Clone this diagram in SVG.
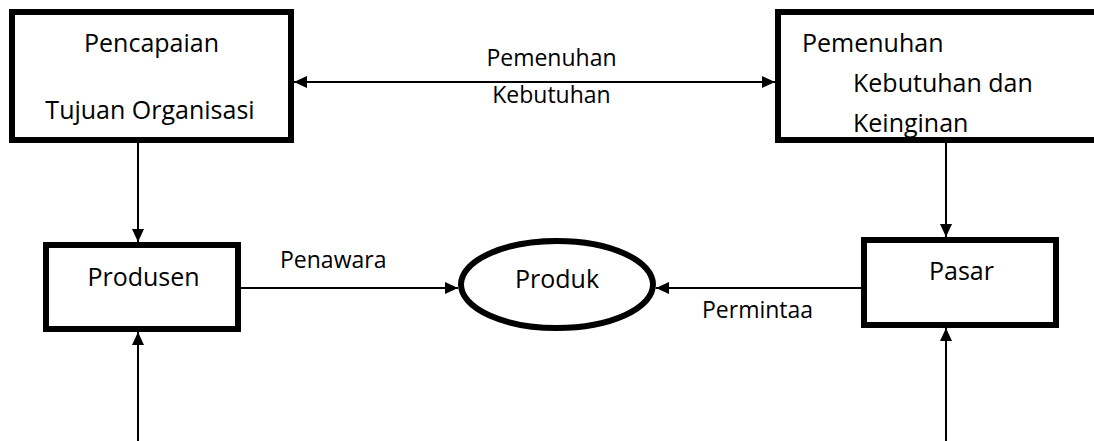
<svg xmlns="http://www.w3.org/2000/svg" width="1094" height="441" viewBox="0 0 1094 441">
  <style>
    .box { fill: none; stroke: #000; stroke-width: 6; }
    .bg { fill: #fff; stroke: none; }
    .t { font-family: "Open Sans", "Liberation Sans", sans-serif; font-size: 25px; fill: #000; }
    .lbl { font-family: "Open Sans", "Liberation Sans", sans-serif; font-size: 23px; fill: #000; }
    .c { text-anchor: middle; }
    .ln { fill: none; stroke: #000; stroke-width: 2; }
  </style>
  <defs>
    <marker id="arr" markerUnits="userSpaceOnUse" markerWidth="13" markerHeight="12" refX="13" refY="6" orient="auto-start-reverse">
      <path d="M0,0 L13,6 L0,12 Z" fill="#000"/>
    </marker>
  </defs>
  <rect width="1094" height="441" fill="#fff"/>

  <g id="connectors">
    <line class="ln" x1="294" y1="82" x2="775" y2="82" marker-start="url(#arr)" marker-end="url(#arr)"/>
    <line class="ln" x1="138" y1="143" x2="138" y2="242" marker-end="url(#arr)"/>
    <line class="ln" x1="138" y1="441" x2="138" y2="332" marker-end="url(#arr)"/>
    <line class="ln" x1="241" y1="288" x2="458" y2="288" marker-end="url(#arr)"/>
    <line class="ln" x1="861" y1="288" x2="656" y2="288" marker-end="url(#arr)"/>
    <line class="ln" x1="946" y1="143" x2="946" y2="237" marker-end="url(#arr)"/>
    <line class="ln" x1="946" y1="441" x2="946" y2="328" marker-end="url(#arr)"/>
    <text class="lbl c" x="551.5" y="66">Pemenuhan</text>
    <text class="lbl c" x="551.5" y="103">Kebutuhan</text>
    <text class="lbl" x="280" y="268">Penawara</text>
    <text class="lbl" x="702" y="318">Permintaa</text>
  </g>

  <g id="node-pencapaian">
    <rect class="box" x="12" y="12" width="279" height="128"/>
    <text class="t c" x="151.5" y="52">Pencapaian</text>
    <text class="t c" x="150" y="119">Tujuan Organisasi</text>
  </g>

  <g id="node-pemenuhan">
    <text class="t" x="802" y="52">Pemenuhan</text>
    <text class="t" x="853" y="92">Kebutuhan dan</text>
    <text class="t" x="853" y="132">Keinginan</text>
    <rect class="box" x="778" y="12" width="330" height="128"/>
  </g>

  <g id="node-produsen">
    <rect class="box" x="46" y="245" width="192" height="84"/>
    <text class="t c" x="143.5" y="286">Produsen</text>
  </g>

  <g id="node-produk">
    <ellipse class="box" cx="557" cy="284.5" rx="96" ry="43.5"/>
    <text class="t c" x="557" y="288">Produk</text>
  </g>

  <g id="node-pasar">
    <rect class="box" x="864" y="240" width="192" height="85"/>
    <text class="t c" x="961.5" y="280">Pasar</text>
  </g>
</svg>
